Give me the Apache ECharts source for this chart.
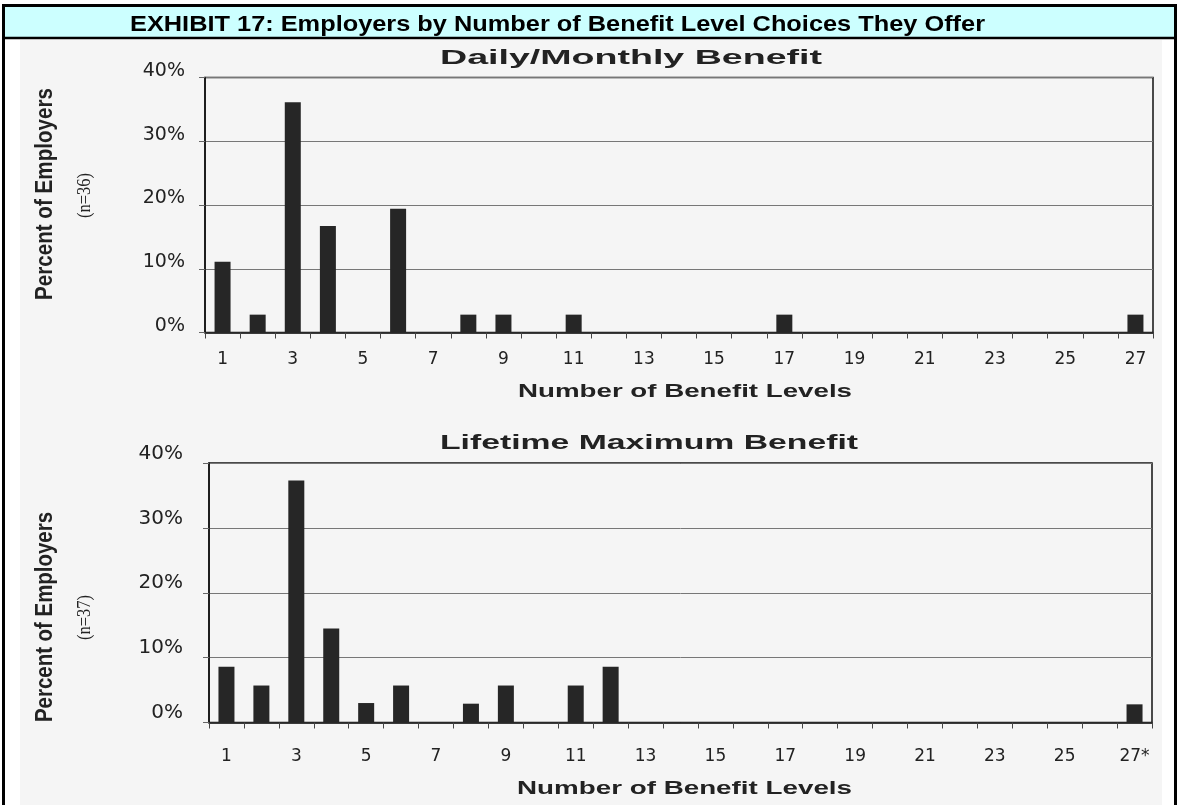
<!DOCTYPE html>
<html><head><meta charset="utf-8">
<script src="https://cdn.jsdelivr.net/npm/echarts@6/dist/echarts.min.js"></script>
<style>html,body{margin:0;padding:0;background:#fff}#c{width:1180px;height:805px}</style>
</head><body><div id="c"></div>
<script>
const mainTitle = 'EXHIBIT 17: Employers by Number of Benefit Level Choices They Offer';
const topTitle = 'Daily/Monthly Benefit';
const bottomTitle = 'Lifetime Maximum Benefit';
const yAxisTitle = 'Percent of Employers';
const topN = '(n=36)';
const bottomN = '(n=37)';
const xAxisTitle = 'Number of Benefit Levels';
const topCategories = ['1','2','3','4','5','6','7','8','9','10','11','12','13','14','15','16','17','18','19','20','21','22','23','24','25','26','27'];
const bottomCategories = ['1','2','3','4','5','6','7','8','9','10','11','12','13','14','15','16','17','18','19','20','21','22','23','24','25','26','27*'];
const topValues = [11.1, 2.8, 36.1, 16.7, 0, 19.4, 0, 2.8, 2.8, 0, 2.8, 0, 0, 0, 0, 0, 2.8, 0, 0, 0, 0, 0, 0, 0, 0, 0, 2.8];
const bottomValues = [8.6, 5.7, 37.3, 14.5, 3.0, 5.7, 0, 2.9, 5.7, 0, 5.7, 8.6, 0, 0, 0, 0, 0, 0, 0, 0, 0, 0, 0, 0, 0, 0, 2.8];
const yMin = 0, yMax = 40, yStep = 10;

const chart = echarts.init(document.getElementById('c'), null, {renderer: 'canvas'});

// measure text to stretch it to the widths seen in the (horizontally stretched) scan
const mctx = document.createElement('canvas').getContext('2d');
function measure(text, font) { mctx.font = font; return mctx.measureText(text).width; }
function stretchedText(text, font, x, y, targetLen, rotated, fill) {
  const w = measure(text, font);
  const el = {
    type: 'text', z: 100, silent: true, x: x, y: y,
    scaleX: targetLen / w,
    style: {text: text, align: 'center', verticalAlign: 'middle', fill: fill || '#222', font: font}
  };
  if (rotated) el.rotation = Math.PI / 2;
  return el;
}

function xAxisCfg(idx, cats, labelMargin) {
  return {
    type: 'category', gridIndex: idx, data: cats,
    axisLine: {show: true, lineStyle: {color: '#111', width: 1.5}},
    axisTick: {show: true, interval: 0, alignWithLabel: false, inside: false, length: 6, lineStyle: {color: '#444', width: 1}},
    axisLabel: {interval: 1, margin: labelMargin, color: '#222', fontFamily: 'DejaVu Sans', fontSize: 17},
    splitLine: {show: false}
  };
}
function yAxisCfg(idx, labelMargin, fs, lift) {
  return {
    type: 'value', gridIndex: idx, min: yMin, max: yMax, interval: yStep,
    axisLine: {show: true, lineStyle: {color: '#111', width: 1.5}},
    axisTick: {show: true, inside: false, length: 6, lineStyle: {color: '#666'}},
    axisLabel: {formatter: '{value}%', margin: labelMargin, color: '#222', fontFamily: 'DejaVu Sans', fontSize: fs,
      verticalAlign: 'bottom', lineHeight: lift * 2},
    splitLine: {show: true, lineStyle: {color: '#777', width: 1}}
  };
}

const titleFont = 'bold 22px "Liberation Sans", Arial, sans-serif';
const subFont = 'bold 20px "Liberation Sans", Arial, sans-serif';
const xNameFont = 'bold 19px "Liberation Sans", Arial, sans-serif';
const yNameFont = 'bold 23px "Liberation Sans", Arial, sans-serif';
const nFont = '19px "Liberation Serif", "Times New Roman", serif';

const option = {
  animation: false,
  backgroundColor: '#fff',
  grid: [
    {left: 205, right: 27, top: 77.5, height: 255, show: true, borderColor: '#111', borderWidth: 1.5, backgroundColor: 'transparent'},
    {left: 209, right: 28, top: 463, height: 259.5, show: true, borderColor: '#111', borderWidth: 1.5, backgroundColor: 'transparent'}
  ],
  xAxis: [xAxisCfg(0, topCategories, 19), xAxisCfg(1, bottomCategories, 26)],
  yAxis: [yAxisCfg(0, 20, 19, 6.5), yAxisCfg(1, 26, 20, 9.5)],
  series: [
    {type: 'bar', xAxisIndex: 0, yAxisIndex: 0, data: topValues, barWidth: 16, itemStyle: {color: '#262626'}},
    {type: 'bar', xAxisIndex: 1, yAxisIndex: 1, data: bottomValues, barWidth: 16, itemStyle: {color: '#262626'}}
  ],
  graphic: [
    {type: 'rect', z: -10, silent: true, shape: {x: 20, y: 40, width: 1142, height: 770}, style: {fill: '#f5f5f5'}},
    {type: 'rect', z: -10, silent: true, shape: {x: 3, y: 6, width: 1173, height: 32}, style: {fill: '#ccffff'}},
    {type: 'rect', z: 100, silent: true, shape: {x: 3.5, y: 5.5, width: 1172, height: 830}, style: {fill: null, stroke: '#000', lineWidth: 3}},
    {type: 'line', z: 100, silent: true, shape: {x1: 3, y1: 38, x2: 1176, y2: 38}, style: {stroke: '#000', lineWidth: 2.5}},
    stretchedText(mainTitle, titleFont, 557.5, 24.5, 855, false, '#000'),
    stretchedText(topTitle, subFont, 631, 58.5, 382, false),
    stretchedText(bottomTitle, subFont, 649, 443, 418, false),
    stretchedText(xAxisTitle, xNameFont, 685, 392, 334, false),
    stretchedText(xAxisTitle, xNameFont, 684.5, 789, 335, false),
    stretchedText(yAxisTitle, yNameFont, 46, 194, 212, true),
    stretchedText(topN, nFont, 85, 195.5, 45, true),
    stretchedText(yAxisTitle, yNameFont, 46, 617, 210, true),
    stretchedText(bottomN, nFont, 85, 617.5, 45, true)
  ]
};
chart.setOption(option);
</script>
</body></html>
